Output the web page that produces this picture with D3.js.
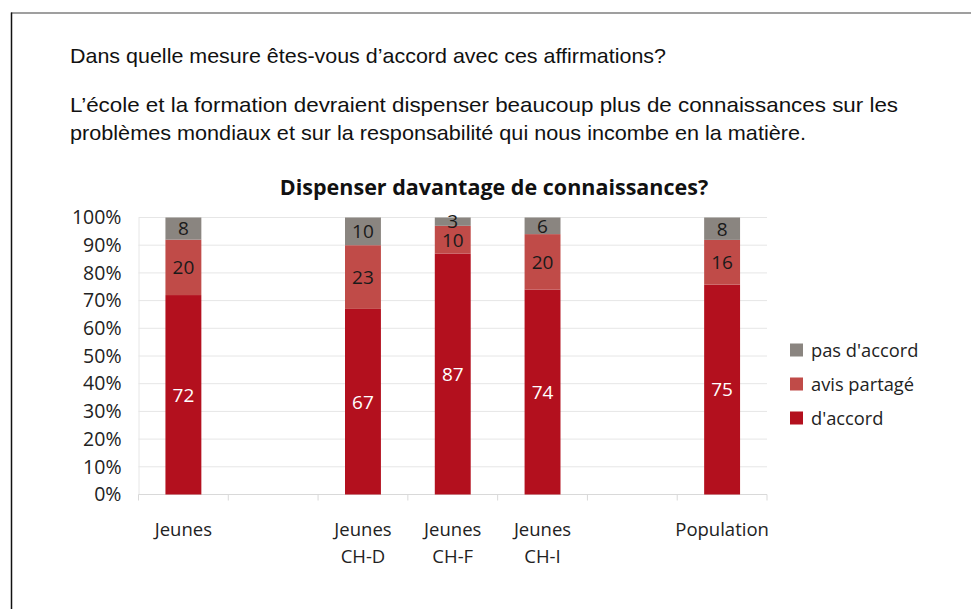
<!DOCTYPE html>
<html><head><meta charset="utf-8">
<script src="https://cdn.jsdelivr.net/npm/d3@7/dist/d3.min.js"></script>
<style>
body{margin:0;background:#fff;}
svg{display:block;}
</style></head>
<body>
<svg id="c" width="971" height="609"></svg>
<script>
// ---- data ----
const categories = ["Jeunes", "", "Jeunes CH-D", "Jeunes CH-F", "Jeunes CH-I", "", "Population"];
const dAccord     = [72, null, 67, 87, 74, null, 75];
const avisPartage = [20, null, 23, 10, 20, null, 16];
const pasDAccord  = [8,  null, 10, 3,  6,  null, 8];
const seriesNames = ["d'accord", "avis partagé", "pas d'accord"];
const yTicks = [0, 0.1, 0.2, 0.3, 0.4, 0.5, 0.6, 0.7, 0.8, 0.9, 1];
const chartTitle = "Dispenser davantage de connaissances?";
const questionText = "Dans quelle mesure êtes-vous d’accord avec ces affirmations?";
const statementLines = ["L’école et la formation devraient dispenser beaucoup plus de connaissances sur les",
  "problèmes mondiaux et sur la responsabilité qui nous incombe en la matière."];

const colors = ["#b3101e", "#c04b48", "#8a8580"];
const labelColors = ["#ffffff", "#1a1a1a", "#1a1a1a"];
const seriesValues = [dAccord, avisPartage, pasDAccord];

const svg = d3.select("#c");
const W = 971, H = 609;

// frame lines
svg.append("line").attr("x1", 11).attr("x2", W).attr("y1", 13).attr("y2", 13)
  .attr("stroke", "#7f7f7f").attr("stroke-width", 1.5);
svg.append("line").attr("x1", 11.5).attr("x2", 11.5).attr("y1", 12.5).attr("y2", H)
  .attr("stroke", "#111").attr("stroke-width", 1.5);

// header texts
const armFont = "'Liberation Sans', Arial, sans-serif";
const headerLens = [596, 828, 736];
svg.append("text").attr("x", 70).attr("y", 63).text(questionText)
  .attr("font-family", armFont).attr("font-size", 21).attr("fill", "#111")
  .attr("textLength", headerLens[0]).attr("lengthAdjust", "spacingAndGlyphs");
statementLines.forEach((t, i) => {
  svg.append("text").attr("x", 70).attr("y", 112 + i * 28).text(t)
    .attr("font-family", armFont).attr("font-size", 21).attr("fill", "#111")
    .attr("textLength", headerLens[i + 1]).attr("lengthAdjust", "spacingAndGlyphs");
});

const chartFont = "'Open Sans', 'Noto Sans', sans-serif";
const margin = {left: 138.5, right: 767, top: 217.5, bottom: 494.5};

svg.append("text").attr("x", 494).attr("y", 195).attr("text-anchor", "middle")
  .attr("font-family", chartFont).attr("font-weight", "bold").attr("font-size", 21.5)
  .attr("fill", "#111").text(chartTitle);

const x = d3.scaleBand().domain(d3.range(categories.length))
  .range([margin.left, margin.right]).paddingInner(0.6).paddingOuter(0.3);
const y = d3.scaleLinear().domain([0, 1]).range([margin.bottom, margin.top]);

// gridlines
svg.append("g").selectAll("line").data(yTicks.slice(1)).join("line")
  .attr("x1", margin.left).attr("x2", margin.right)
  .attr("y1", d => y(d)).attr("y2", d => y(d))
  .attr("stroke", "#e6e6e6").attr("stroke-width", 1);

// y axis
const yAxis = svg.append("g").attr("transform", `translate(${margin.left},0)`)
  .call(d3.axisLeft(y).tickValues(yTicks).tickFormat(d3.format(".0%")).tickSize(0).tickPadding(17));
yAxis.select(".domain").attr("stroke", "#e6e6e6");
yAxis.selectAll("text").attr("font-family", chartFont).attr("font-size", 19.5).attr("fill", "#222");

// x axis with boundary ticks
const bounds = d3.range(categories.length + 1).map(i => margin.left + i * (margin.right - margin.left) / categories.length);
svg.append("line").attr("x1", margin.left).attr("x2", margin.right)
  .attr("y1", margin.bottom).attr("y2", margin.bottom).attr("stroke", "#d9d9d9");
svg.append("g").selectAll("line").data(bounds).join("line")
  .attr("x1", d => d).attr("x2", d => d).attr("y1", margin.bottom).attr("y2", margin.bottom + 6)
  .attr("stroke", "#d9d9d9");

// category labels
const xl = svg.append("g");
categories.forEach((c, i) => {
  if (!c) return;
  const parts = c.split(" ");
  const cx = x(i) + x.bandwidth() / 2;
  parts.forEach((p, j) => {
    xl.append("text").attr("x", cx).attr("y", 536 + j * 27).attr("text-anchor", "middle")
      .attr("font-family", chartFont).attr("font-size", 18.5).attr("fill", "#222").text(p);
  });
});

// stacked, normalised data
const rows = categories.map((c, i) => {
  if (seriesValues[0][i] == null) return null;
  const tot = d3.sum(seriesValues, s => s[i]);
  const r = {i};
  seriesNames.forEach((n, k) => r[n] = seriesValues[k][i] / tot);
  r.raw = seriesValues.map(s => s[i]);
  return r;
}).filter(Boolean);

const stack = d3.stack().keys(seriesNames)(rows);
stack.forEach((layer, k) => {
  const g = svg.append("g");
  g.selectAll("rect").data(layer).join("rect")
    .attr("x", d => x(d.data.i)).attr("width", x.bandwidth())
    .attr("y", d => y(d[1])).attr("height", d => y(d[0]) - y(d[1]))
    .attr("fill", colors[k]);
  g.selectAll("text").data(layer).join("text")
    .attr("x", d => x(d.data.i) + x.bandwidth() / 2)
    .attr("y", d => y((d[0] + d[1]) / 2))
    .attr("dy", "0.36em").attr("text-anchor", "middle")
    .attr("font-family", chartFont).attr("font-size", 19).attr("fill", labelColors[k])
    .text(d => d.data.raw[k]);
});

// legend
const legendOrder = [2, 1, 0];
const lg = svg.append("g");
legendOrder.forEach((k, j) => {
  const cy = 350 + j * 34;
  lg.append("rect").attr("x", 790).attr("y", cy - 6.5).attr("width", 13).attr("height", 13).attr("fill", colors[k]);
  lg.append("text").attr("x", 811).attr("y", cy).attr("dy", "0.36em")
    .attr("font-family", chartFont).attr("font-size", 18.3).attr("fill", "#222").text(seriesNames[k]);
});
</script>
</body></html>
